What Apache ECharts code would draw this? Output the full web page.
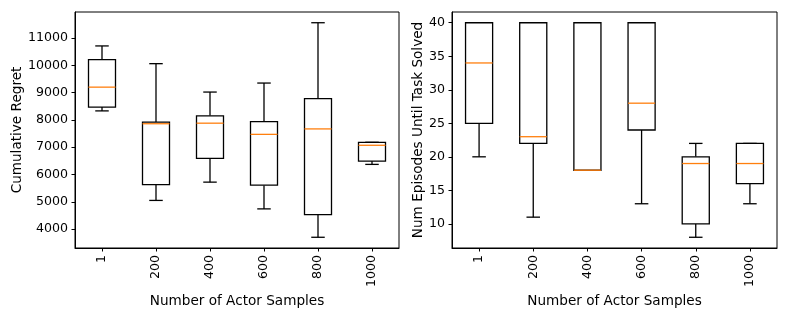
<!DOCTYPE html>
<html><head><meta charset="utf-8">
<script src="https://cdn.jsdelivr.net/npm/echarts@6/dist/echarts.min.js"></script>
<style>html,body{margin:0;padding:0;background:#fff}#c{width:789px;height:316px}</style>
</head><body><div id="c"></div>
<script>
const categories = ['1','200','400','600','800','1000'];
// [low whisker, Q1, median, Q3, high whisker]
const regretStats = [
  [8330, 8470, 9200, 10210, 10710],
  [5050, 5630, 7860, 7920, 10060],
  [5720, 6590, 7880, 8150, 9020],
  [4740, 5610, 7470, 7940, 9350],
  [3700, 4530, 7670, 8780, 11560],
  [6370, 6490, 7070, 7180, 7180]
];
const episodeStats = [
  [20, 25, 34, 40, 40],
  [11, 22, 23, 40, 40],
  [18, 18, 18, 40, 40],
  [13, 24, 28, 40, 40],
  [8, 10, 19, 20, 22],
  [13, 16, 19, 22, 22]
];
const regretTicks = [4000,5000,6000,7000,8000,9000,10000,11000];
const episodeTicks = [10,15,20,25,30,35,40];

function limits(stats){
  let lo = Infinity, hi = -Infinity;
  stats.forEach(s => { lo = Math.min(lo, s[0]); hi = Math.max(hi, s[4]); });
  const m = (hi - lo) * 0.05;
  return [lo - m, hi + m];
}
const rl = limits(regretStats), el = limits(episodeStats);

const font = 'DejaVu Sans';
const tickSize = 12.6, titleSize = 13.6;
function renderBox(params, api){
  const x = api.value(0);
  const v = [api.value(1), api.value(2), api.value(3), api.value(4), api.value(5)];
  const w = api.size([1, 0])[0] * 0.5;
  const cw = w * 0.5;
  const pLow = api.coord([x, v[0]]), pQ1 = api.coord([x, v[1]]), pMed = api.coord([x, v[2]]),
        pQ3 = api.coord([x, v[3]]), pHigh = api.coord([x, v[4]]);
  const cx = pLow[0];
  const st = {stroke: '#000', lineWidth: 1.3, fill: null};
  return {type: 'group', children: [
    {type: 'line', shape: {x1: cx, y1: pQ1[1], x2: cx, y2: pLow[1]}, style: st},
    {type: 'line', shape: {x1: cx, y1: pQ3[1], x2: cx, y2: pHigh[1]}, style: st},
    {type: 'line', shape: {x1: cx - cw/2, y1: pLow[1], x2: cx + cw/2, y2: pLow[1]}, style: st},
    {type: 'line', shape: {x1: cx - cw/2, y1: pHigh[1], x2: cx + cw/2, y2: pHigh[1]}, style: st},
    {type: 'rect', shape: {x: cx - w/2, y: pQ3[1], width: w, height: pQ1[1] - pQ3[1]}, style: {stroke: '#000', lineWidth: 1.3, fill: '#fff'}},
    {type: 'line', shape: {x1: cx - w/2, y1: pMed[1], x2: cx + w/2, y2: pMed[1]}, style: {stroke: '#ff7f0e', lineWidth: 1.3}}
  ]};
}
function toData(stats){ return stats.map((s, i) => [i].concat(s)); }

const xAxisCommon = {
  type: 'category', data: categories, name: 'Number of Actor Samples', nameLocation: 'middle', nameGap: 40,
  nameTextStyle: {fontFamily: font, fontSize: titleSize, color: '#000'},
  axisLine: {show: true, lineStyle: {color: '#000', width: 1}},
  axisTick: {show: true, alignWithLabel: true, length: 3.5, lineStyle: {color: '#000'}},
  axisLabel: {rotate: 90, margin: 7, fontFamily: font, fontSize: tickSize, color: '#000'},
  splitLine: {show: false}
};
const plain = v => String(Math.round(v));
const chart = echarts.init(document.getElementById('c'), null, {renderer: 'canvas'});
chart.setOption({
  animation: false,
  backgroundColor: '#fff',
  grid: [
    {left: 75, top: 12, width: 324, height: 236, show: true, borderColor: '#000', borderWidth: 1, backgroundColor: '#fff'},
    {left: 452, top: 12, width: 325, height: 236, show: true, borderColor: '#000', borderWidth: 1, backgroundColor: '#fff'}
  ],
  xAxis: [Object.assign({gridIndex: 0}, xAxisCommon), Object.assign({gridIndex: 1}, xAxisCommon)],
  yAxis: [
    {type: 'value', gridIndex: 0, min: rl[0], max: rl[1], name: 'Cumulative Regret', nameLocation: 'middle', nameGap: 47,
     nameTextStyle: {fontFamily: font, fontSize: titleSize, color: '#000'},
     axisLine: {show: true, lineStyle: {color: '#000'}},
     axisTick: {show: true, length: 3.5, lineStyle: {color: '#000'}, customValues: regretTicks},
     axisLabel: {margin: 7, fontFamily: font, fontSize: tickSize, color: '#000', customValues: regretTicks, formatter: plain},
     splitLine: {show: false}},
    {type: 'value', gridIndex: 1, min: el[0], max: el[1], name: 'Num Episodes Until Task Solved', nameLocation: 'middle', nameGap: 27,
     nameTextStyle: {fontFamily: font, fontSize: titleSize, color: '#000'},
     axisLine: {show: true, lineStyle: {color: '#000'}},
     axisTick: {show: true, length: 3.5, lineStyle: {color: '#000'}, customValues: episodeTicks},
     axisLabel: {margin: 7, fontFamily: font, fontSize: tickSize, color: '#000', customValues: episodeTicks, formatter: plain},
     splitLine: {show: false}}
  ],
  series: [
    {type: 'custom', xAxisIndex: 0, yAxisIndex: 0, renderItem: renderBox, data: toData(regretStats), encode: {x: 0, y: [1,2,3,4,5]}},
    {type: 'custom', xAxisIndex: 1, yAxisIndex: 1, renderItem: renderBox, data: toData(episodeStats), encode: {x: 0, y: [1,2,3,4,5]}}
  ]
});
</script></body></html>
